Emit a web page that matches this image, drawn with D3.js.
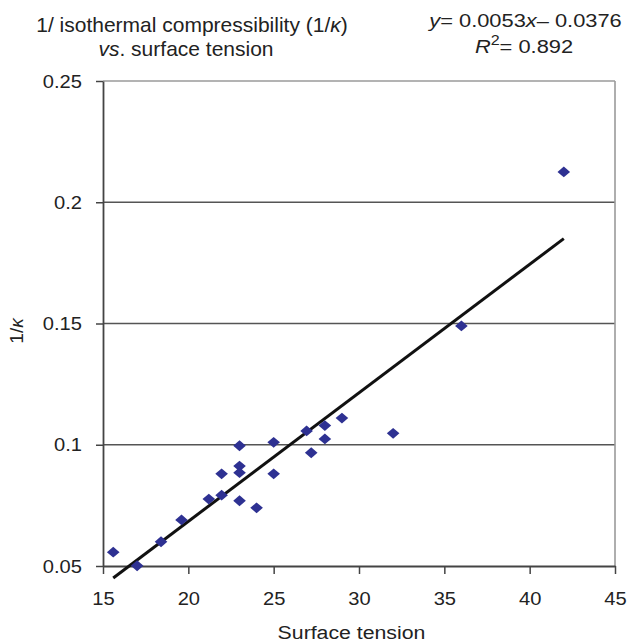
<!DOCTYPE html>
<html>
<head>
<meta charset="utf-8">
<script src="https://cdn.jsdelivr.net/npm/d3@7"></script>
<style>
  html, body { margin: 0; padding: 0; background: #fff; }
  svg { display: block; font-family: "Liberation Sans", Arial, Helvetica, sans-serif; }
</style>
</head>
<body>
<svg id="chart" width="629" height="644"></svg>
<script>
// ---- data ----
const surfaceTension = [15.6, 17.0, 18.4, 19.6, 21.2, 21.95, 21.95, 23.0, 23.0, 23.0, 23.0, 24.0, 25.0, 25.0, 26.93, 27.2, 28.0, 28.0, 29.0, 32.0, 36.0, 42.0];
const invKappa = [0.0557, 0.0501, 0.060, 0.069, 0.0776, 0.0792, 0.088, 0.0996, 0.0912, 0.0885, 0.0769, 0.074, 0.101, 0.088, 0.1057, 0.0967, 0.1079, 0.1024, 0.111, 0.1047, 0.149, 0.2125];
const fitSlope = 0.0053;
const fitIntercept = -0.0376;
const xTickValues = [15, 20, 25, 30, 35, 40, 45];
const xTickLabels = ["15", "20", "25", "30", "35", "40", "45"];
const yTickValues = [0.05, 0.1, 0.15, 0.2, 0.25];
const yTickLabels = ["0.05", "0.1", "0.15", "0.2", "0.25"];

// ---- layout ----
const svg = d3.select("#chart");
const plotL = 103, plotR = 615, plotT = 81, plotB = 566;
const x = d3.scaleLinear().domain([15, 45]).range([plotL, plotR]);
const y = d3.scaleLinear().domain([0.05, 0.25]).range([plotB, plotT]);
const textColor = "#222";
const tickSX = 1.06;

// gridlines (interior)
svg.append("g").selectAll("line")
  .data(yTickValues.filter(v => v > 0.05 && v < 0.25))
  .join("line")
  .attr("x1", plotL).attr("x2", plotR)
  .attr("y1", d => y(d)).attr("y2", d => y(d))
  .attr("stroke", "#555").attr("stroke-width", 1.6);

// top and right frame (light gray)
svg.append("line").attr("x1", plotL).attr("x2", plotR).attr("y1", y(0.25)).attr("y2", y(0.25))
  .attr("stroke", "#9a9a9a").attr("stroke-width", 1.6);
svg.append("line").attr("x1", plotR).attr("x2", plotR).attr("y1", plotT).attr("y2", plotB)
  .attr("stroke", "#9a9a9a").attr("stroke-width", 1.6);

// axes
const xAxis = d3.axisBottom(x).tickValues(xTickValues)
  .tickFormat((d, i) => xTickLabels[i]).tickSizeInner(8).tickSizeOuter(0).tickPadding(18);
const yAxis = d3.axisLeft(y).tickValues(yTickValues)
  .tickFormat((d, i) => yTickLabels[i]).tickSizeInner(7).tickSizeOuter(0).tickPadding(14);

const gx = svg.append("g").attr("transform", `translate(0,${plotB})`).call(xAxis);
const gy = svg.append("g").attr("transform", `translate(${plotL},0)`).call(yAxis);
[gx, gy].forEach(g => {
  g.select(".domain").attr("stroke", "#444").attr("stroke-width", 1.8);
  g.selectAll(".tick line").attr("stroke", "#444").attr("stroke-width", 1.5);
  g.selectAll(".tick text").attr("fill", textColor).attr("font-size", 19)
    .attr("font-family", "'Liberation Sans', Arial, sans-serif");
});
gx.selectAll(".tick text").attr("transform", `scale(${tickSX},1)`);
gy.selectAll(".tick text").each(function () {
  const t = d3.select(this);
  const tx = +t.attr("x");
  t.attr("x", 0).attr("transform", `translate(${tx},0) scale(${tickSX},1)`);
});

// trend line
const xMin = d3.min(surfaceTension), xMax = d3.max(surfaceTension);
svg.append("line")
  .attr("x1", x(xMin)).attr("y1", y(fitSlope * xMin + fitIntercept))
  .attr("x2", x(xMax)).attr("y2", y(fitSlope * xMax + fitIntercept))
  .attr("stroke", "#111").attr("stroke-width", 3);

// points (diamonds)
const pts = surfaceTension.map((s, i) => ({ s, k: invKappa[i] }));
svg.append("g").selectAll("path")
  .data(pts).join("path")
  .attr("d", d3.symbol(d3.symbolDiamond2, 92))
  .attr("transform", d => `translate(${x(d.s)},${y(d.k)}) scale(1.05,0.9)`)
  .attr("fill", "#2e3192");

// helper: stretched text
function stretchedText(cx, cy, sx, size) {
  return svg.append("g").attr("transform", `translate(${cx},${cy}) scale(${sx},1)`)
    .append("text").attr("x", 0).attr("y", 0).attr("text-anchor", "middle")
    .attr("font-size", size).attr("fill", textColor);
}

// titles
const t1 = stretchedText(192, 32, 1.0, 21);
t1.append("tspan").text("1/ isothermal compressibility (1/");
t1.append("tspan").attr("font-style", "italic").text("κ");
t1.append("tspan").text(")");

const t2 = stretchedText(186, 56, 1.0, 21);
t2.append("tspan").attr("font-style", "italic").text("vs");
t2.append("tspan").text(". surface tension");

const e1 = stretchedText(525.5, 27, 1.15, 19);
e1.append("tspan").attr("font-style", "italic").text("y");
e1.append("tspan").text("= 0.0053");
e1.append("tspan").attr("font-style", "italic").text("x");
e1.append("tspan").text("– 0.0376");

const e2 = stretchedText(524, 53, 1.15, 19);
e2.append("tspan").attr("font-style", "italic").text("R");
e2.append("tspan").attr("font-size", 14).attr("dy", -8).text("2");
e2.append("tspan").attr("dy", 8).text("= 0.892");

// axis titles
stretchedText(351.5, 639, 1.12, 19).text("Surface tension");

const yl = svg.append("text").attr("transform", "translate(23,331) rotate(-90)")
  .attr("text-anchor", "middle").attr("font-size", 19).attr("fill", textColor);
yl.append("tspan").text("1/");
yl.append("tspan").attr("font-style", "italic").text("κ");
</script>
</body>
</html>
